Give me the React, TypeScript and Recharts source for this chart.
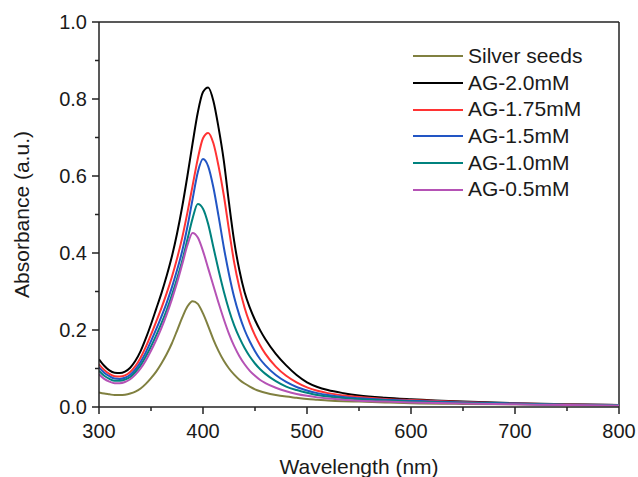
import React from 'react';
import { LineChart, Line, XAxis, YAxis, ReferenceLine, Legend } from 'recharts';

const wavelengths = [300, 305, 310, 315, 320, 325, 330, 335, 340, 345, 350, 355, 360, 365, 370, 375, 380, 385, 390, 395, 400, 405, 410, 415, 420, 425, 430, 435, 440, 445, 450, 455, 460, 470, 480, 490, 500, 510, 520, 535, 550, 575, 600, 650, 700, 750, 800];

const silverSeeds = [0.038, 0.035, 0.033, 0.031, 0.031, 0.032, 0.035, 0.04, 0.048, 0.06, 0.075, 0.092, 0.113, 0.137, 0.165, 0.198, 0.232, 0.261, 0.275, 0.268, 0.243, 0.21, 0.175, 0.145, 0.12, 0.1, 0.084, 0.071, 0.061, 0.053, 0.046, 0.041, 0.037, 0.031, 0.027, 0.024, 0.021, 0.019, 0.017, 0.015, 0.014, 0.012, 0.01, 0.008, 0.007, 0.006, 0.005];
const ag20 = [0.124, 0.107, 0.095, 0.089, 0.088, 0.092, 0.102, 0.12, 0.145, 0.178, 0.215, 0.255, 0.295, 0.34, 0.39, 0.45, 0.52, 0.6, 0.685, 0.765, 0.818, 0.83, 0.795, 0.725, 0.64, 0.53, 0.43, 0.355, 0.298, 0.258, 0.226, 0.199, 0.176, 0.138, 0.108, 0.083, 0.064, 0.052, 0.044, 0.036, 0.03, 0.024, 0.02, 0.014, 0.01, 0.007, 0.005];
const ag175 = [0.111, 0.096, 0.086, 0.08, 0.079, 0.082, 0.091, 0.106, 0.128, 0.156, 0.188, 0.222, 0.257, 0.295, 0.337, 0.385, 0.44, 0.505, 0.575, 0.645, 0.698, 0.712, 0.685, 0.625, 0.55, 0.46, 0.375, 0.31, 0.258, 0.218, 0.186, 0.16, 0.138, 0.105, 0.081, 0.064, 0.051, 0.042, 0.036, 0.03, 0.026, 0.021, 0.018, 0.013, 0.009, 0.007, 0.005];
const ag15 = [0.103, 0.089, 0.08, 0.074, 0.073, 0.076, 0.084, 0.098, 0.117, 0.142, 0.171, 0.202, 0.235, 0.27, 0.31, 0.355, 0.405, 0.468, 0.54, 0.61, 0.644, 0.625, 0.57, 0.495, 0.415, 0.345, 0.285, 0.238, 0.2, 0.17, 0.145, 0.124, 0.108, 0.083, 0.065, 0.052, 0.043, 0.036, 0.031, 0.026, 0.023, 0.019, 0.016, 0.012, 0.009, 0.006, 0.005];
const ag10 = [0.094, 0.081, 0.073, 0.068, 0.068, 0.071, 0.078, 0.091, 0.108, 0.131, 0.157, 0.186, 0.217, 0.251, 0.29, 0.333, 0.38, 0.435, 0.49, 0.527, 0.515, 0.475, 0.415, 0.355, 0.3, 0.252, 0.212, 0.18, 0.153, 0.131, 0.113, 0.098, 0.086, 0.067, 0.053, 0.044, 0.037, 0.031, 0.027, 0.023, 0.02, 0.017, 0.014, 0.011, 0.008, 0.006, 0.005];
const ag05 = [0.085, 0.073, 0.066, 0.062, 0.062, 0.065, 0.072, 0.084, 0.1, 0.121, 0.146, 0.174, 0.205, 0.24, 0.279, 0.322, 0.37, 0.42, 0.452, 0.44, 0.405, 0.36, 0.315, 0.27, 0.228, 0.19, 0.158, 0.132, 0.111, 0.094, 0.081, 0.07, 0.062, 0.05, 0.041, 0.034, 0.029, 0.025, 0.022, 0.019, 0.016, 0.014, 0.012, 0.009, 0.007, 0.005, 0.004];

const xTicks = [300, 350, 400, 450, 500, 550, 600, 650, 700, 750, 800];
const yTicks = [0, 0.1, 0.2, 0.3, 0.4, 0.5, 0.6, 0.7, 0.8, 0.9, 1.0];

const seriesInfo = [
  { key: 'seeds', name: 'Silver seeds', color: '#808040', values: silverSeeds },
  { key: 'ag20', name: 'AG-2.0mM', color: '#000000', values: ag20 },
  { key: 'ag175', name: 'AG-1.75mM', color: '#ff3333', values: ag175 },
  { key: 'ag15', name: 'AG-1.5mM', color: '#2255c4', values: ag15 },
  { key: 'ag10', name: 'AG-1.0mM', color: '#00827e', values: ag10 },
  { key: 'ag05', name: 'AG-0.5mM', color: '#b552b5', values: ag05 },
];

const data = wavelengths.map((wl, i) => {
  const row: Record<string, number> = { wl };
  seriesInfo.forEach((s) => {
    row[s.key] = s.values[i];
  });
  return row;
});

const FONT = 'Arial, "Liberation Sans", sans-serif';
const AXIS_COLOR = '#222222';

const XTick = (props: any) => {
  const { x, y, payload } = props;
  const v = payload.value;
  const major = Math.round(v) % 100 === 0;
  return (
    <g>
      <line x1={x} x2={x} y1={y} y2={y + (major ? 7 : 4)} stroke={AXIS_COLOR} strokeWidth={1.5} />
      {major && (
        <text x={x} y={y + 31} textAnchor="middle" fontSize={20} fontFamily={FONT} fill="#1a1a1a">
          {v}
        </text>
      )}
    </g>
  );
};

const YTick = (props: any) => {
  const { x, y, payload } = props;
  const v = payload.value;
  const major = Math.round(v * 10) % 2 === 0;
  return (
    <g>
      <line x1={x - (major ? 7 : 4)} x2={x} y1={y} y2={y} stroke={AXIS_COLOR} strokeWidth={1.5} />
      {major && (
        <text x={x - 12} y={y + 7} textAnchor="end" fontSize={20} fontFamily={FONT} fill="#1a1a1a">
          {v.toFixed(1)}
        </text>
      )}
    </g>
  );
};

const LegendContent = (props: any) => {
  const { payload } = props;
  const order = seriesInfo.map((s) => s.name);
  const items = [...(payload || [])].sort((a: any, b: any) => order.indexOf(a.value) - order.indexOf(b.value));
  return (
    <div style={{ fontFamily: FONT }}>
      {items.map((p: any) => (
        <div key={p.value} style={{ display: 'flex', alignItems: 'center', height: 26.67 }}>
          <svg width={50} height={4} style={{ display: 'block' }}>
            <line x1={0} x2={50} y1={2} y2={2} stroke={p.color} strokeWidth={2} />
          </svg>
          <span style={{ marginLeft: 5, fontSize: 21, lineHeight: '26.67px', color: '#1a1a1a', whiteSpace: 'nowrap' }}>{p.value}</span>
        </div>
      ))}
    </div>
  );
};

export default function App() {
  return (
    <div style={{ position: 'absolute', left: 0, top: 0, width: 638, height: 477, background: '#fff' }}>
      <LineChart width={638} height={477} data={data} margin={{ top: 22, right: 19, bottom: 0, left: 0 }}>
        <XAxis
          dataKey="wl"
          type="number"
          domain={[300, 800]}
          ticks={xTicks}
          interval={0}
          tick={<XTick />}
          tickLine={false}
          tickSize={0}
          tickMargin={0}
          height={70}
          axisLine={{ stroke: AXIS_COLOR, strokeWidth: 1.5 }}
          allowDataOverflow
          label={{ value: 'Wavelength (nm)', position: 'insideBottom', offset: 3, fontSize: 21, fontFamily: FONT, fill: '#1a1a1a' }}
        />
        <YAxis
          type="number"
          domain={[0, 1]}
          ticks={yTicks}
          interval={0}
          tick={<YTick />}
          tickLine={false}
          tickSize={0}
          tickMargin={0}
          width={99}
          axisLine={{ stroke: AXIS_COLOR, strokeWidth: 1.5 }}
          allowDataOverflow
          label={{ value: 'Absorbance (a.u.)', angle: -90, position: 'insideLeft', offset: 22, fontSize: 21, fontFamily: FONT, fill: '#1a1a1a', style: { textAnchor: 'middle' } }}
        />
        <ReferenceLine y={1} stroke={AXIS_COLOR} strokeWidth={1.5} />
        <ReferenceLine x={800} stroke={AXIS_COLOR} strokeWidth={1.5} />
        <Legend
          layout="vertical"
          align="center"
          verticalAlign="middle"
          content={<LegendContent />}
          wrapperStyle={{ position: 'absolute', left: 413, top: 43, width: 210 }}
        />
        {seriesInfo.map((s) => (
          <Line
            key={s.key}
            type="monotone"
            dataKey={s.key}
            name={s.name}
            stroke={s.color}
            strokeWidth={2}
            dot={false}
            activeDot={false}
            isAnimationActive={false}
          />
        ))}
      </LineChart>
    </div>
  );
}
